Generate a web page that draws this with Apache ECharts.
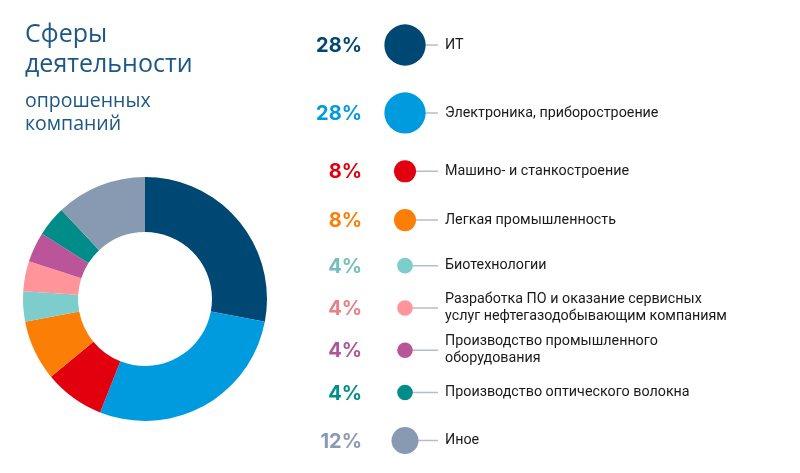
<!DOCTYPE html>
<html><head><meta charset="utf-8">
<script src="https://cdn.jsdelivr.net/npm/echarts@6/dist/echarts.min.js"></script>
<style>html,body{margin:0;padding:0;background:#fff}#c{width:800px;height:473px}</style>
</head><body><div id="c"></div>
<script>
const categories = ['ИТ','Электроника, приборостроение','Машино- и станкостроение','Легкая промышленность','Биотехнологии','Разработка ПО и оказание сервисных\nуслуг нефтегазодобывающим компаниям','Производство промышленного\nоборудования','Производство оптического волокна','Иное'];
const values = [28,28,8,8,4,4,4,4,12];
const colors = ['#004874','#009bdf','#e2000f','#fb7f07','#7ecdcd','#ff949b','#b95598','#008c88','#8899b2'];
const pctColors = ['#004874','#009bdf','#e2000f','#fb7f07','#72bfc0','#e88088','#b0559a','#008e8a','#8a9ab5'];

// layout: bubble radius ~ sqrt(value); rows stacked with a fixed gap
const K = 3.9, GAP = 26.7, START = 45;
const radii = values.map(v => K * Math.sqrt(v));
const rowY = [];
radii.forEach((r, i) => { rowY.push(i === 0 ? START : rowY[i-1] + radii[i-1] + r + GAP); });

const chart = echarts.init(document.getElementById('c'));
chart.setOption({
  animation: false,
  title: {
    left: 20, top: 15,
    text: 'Сферы\nдеятельности',
    subtext: 'опрошенных\nкомпаний',
    itemGap: 10,
    textStyle: {fontFamily: 'Open Sans', fontWeight: 400, fontSize: 25, lineHeight: 30, color: '#1d5785'},
    subtextStyle: {fontFamily: 'Open Sans', fontWeight: 400, fontSize: 19.5, lineHeight: 23, color: '#1d5785'}
  },
  grid: {left: 0, right: 0, top: 0, bottom: 0},
  xAxis: {type: 'value', min: 0, max: 800, show: false},
  yAxis: {type: 'value', min: 0, max: 473, inverse: true, show: false},
  series: [
    {
      type: 'pie', center: [145, 299], radius: [67, 122], startAngle: 90,
      label: {show: false}, labelLine: {show: false}, silent: true,
      data: values.map((v, i) => ({name: categories[i], value: v, itemStyle: {color: colors[i]}}))
    },
    {
      type: 'custom',
      data: values.map((v, i) => [i, rowY[i], v]),
      renderItem: function (params, api) {
        const i = api.value(0);
        const v = api.value(2);
        const p = api.coord([405, api.value(1)]);
        const lineEnd = api.coord([438, 0])[0];
        const labelX = api.coord([445, 0])[0];
        const pctX = api.coord([362, 0])[0];
        const r = K * Math.sqrt(v);
        return {
          type: 'group',
          children: [
            {type: 'line', shape: {x1: p[0], y1: p[1], x2: lineEnd, y2: p[1]}, style: {stroke: '#b4bdcd', lineWidth: 1.5}},
            {type: 'circle', shape: {cx: p[0], cy: p[1], r: r}, style: {fill: colors[i]}},
            {type: 'text', style: {text: v + '%', x: pctX, y: p[1] + 1, align: 'right', verticalAlign: 'middle', fill: pctColors[i], fontFamily: 'Inter', fontWeight: 700, fontSize: 20}},
            {type: 'text', style: {text: categories[i], x: labelX, y: p[1], align: 'left', verticalAlign: 'middle', fill: '#1a1a1a', fontFamily: 'Roboto', fontSize: 14.3, lineHeight: 17}}
          ]
        };
      }
    }
  ]
});
</script></body></html>
